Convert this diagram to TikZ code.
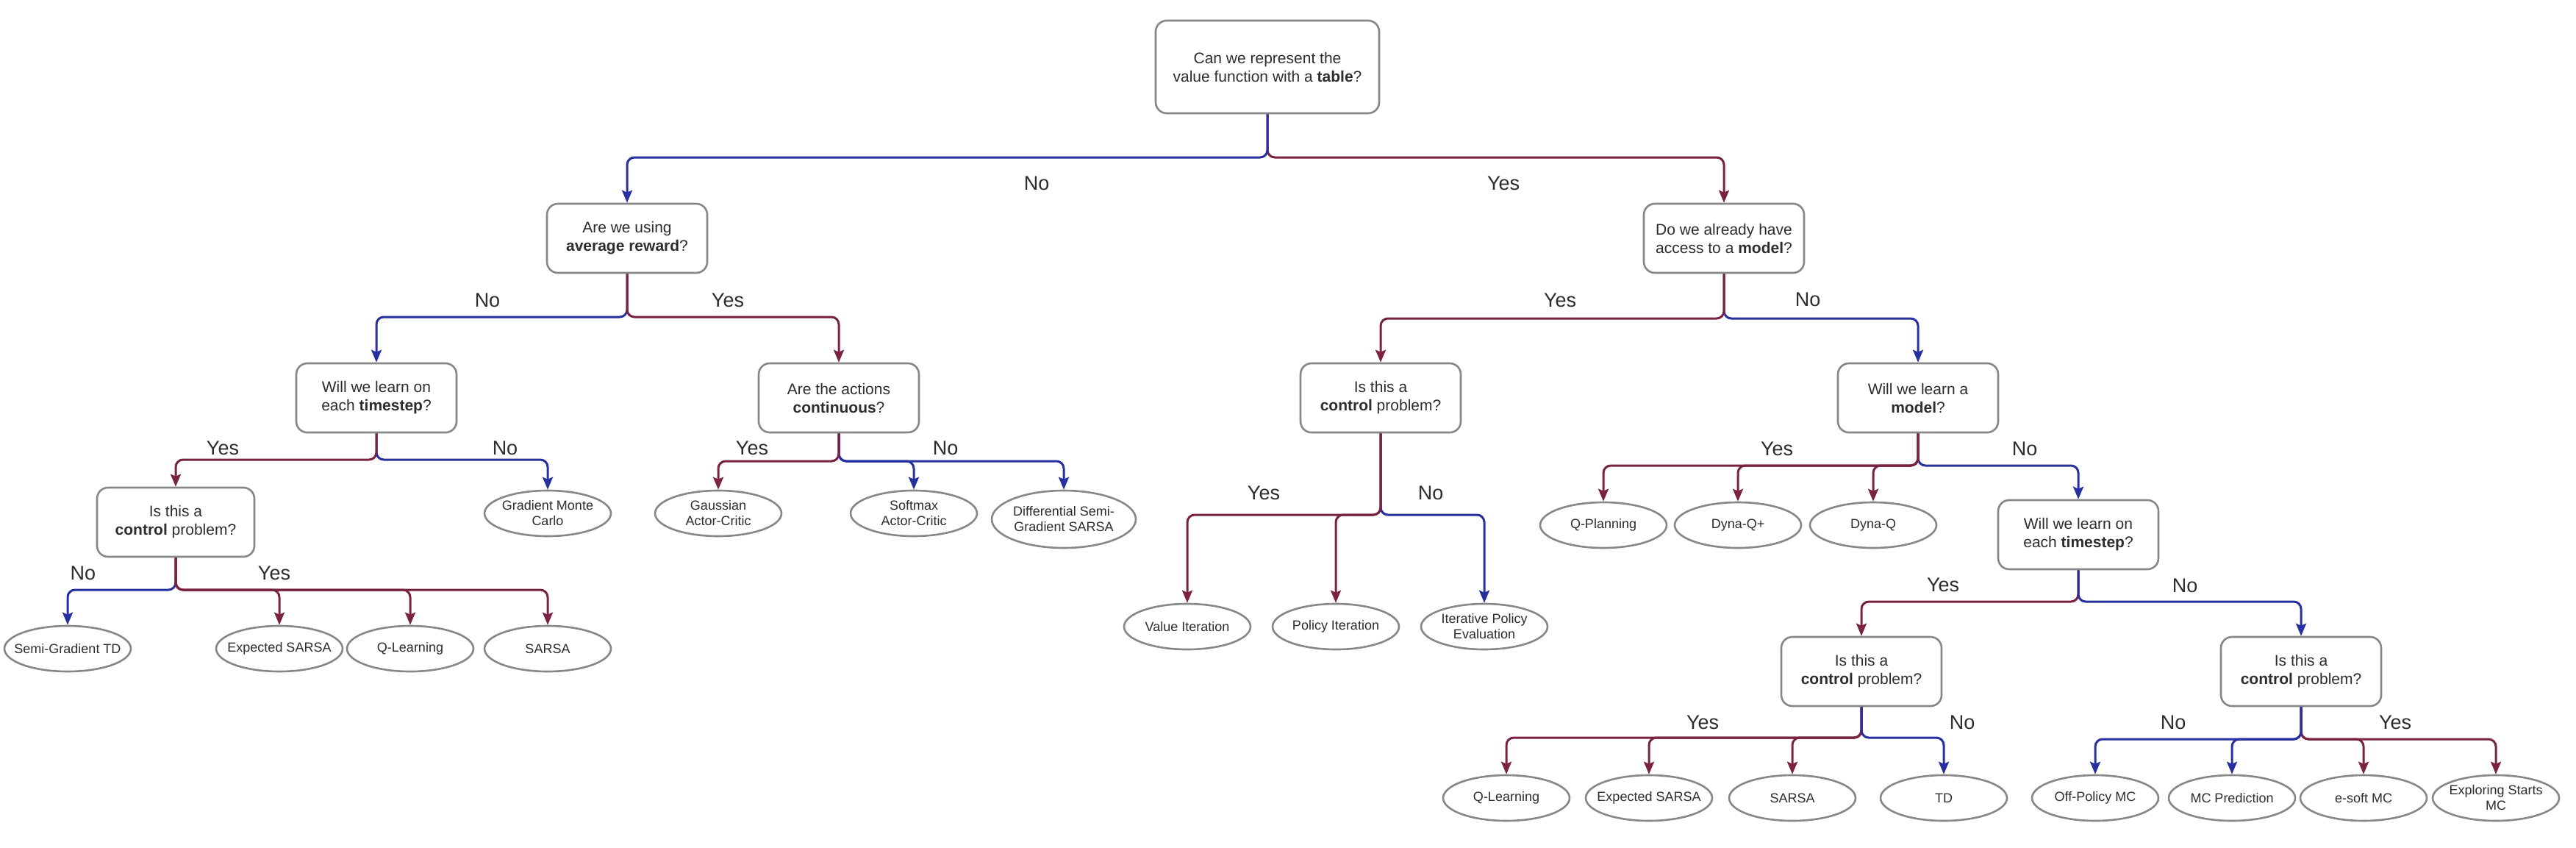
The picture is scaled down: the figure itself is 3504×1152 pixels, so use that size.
\documentclass[tikz,border=0pt]{standalone}
\usepackage{fontspec}
\setmainfont{Liberation Sans}
\usetikzlibrary{arrows.meta,shapes.geometric}
\definecolor{nocol}{RGB}{38,48,158}
\definecolor{yescol}{RGB}{122,34,66}
\definecolor{boxline}{RGB}{135,135,135}
\definecolor{txt}{RGB}{45,45,45}
\tikzset{
  qbox/.style={draw=boxline, line width=2.6pt, rounded corners=15pt, fill=white,
    minimum width=218pt, minimum height=94pt, align=center, text=txt,
    font=\fontsize{21}{25}\selectfont, inner sep=2pt},
  leaf/.style={draw=boxline, line width=2.6pt, ellipse, fill=white,
    minimum width=172pt, minimum height=62pt, align=center, text=txt,
    font=\fontsize{18}{21}\selectfont, inner xsep=-30pt, inner ysep=-4pt},
  edge/.style={line width=3pt, rounded corners=10pt},
  noedge/.style={edge, draw=nocol, -{Stealth[length=17pt,width=14pt,inset=3pt,fill=nocol]}},
  yesedge/.style={edge, draw=yescol, -{Stealth[length=17pt,width=14pt,inset=3pt,fill=yescol]}},
  lbl/.style={text=txt, font=\fontsize{27}{30}\selectfont, inner sep=0pt},
}
\begin{document}
\begin{tikzpicture}[x=1pt,y=-1pt]
\useasboundingbox (0,0) rectangle (3504,1152);
\fill[white] (0,0) rectangle (3504,1152);

% decision boxes
\node[qbox, minimum width=304pt, minimum height=126pt] (top) at (1724,91) {Can we represent the\\value function with a \textbf{table}?};
\node[qbox] (avg) at (853,324) {Are we using\\\textbf{average reward}?};
\node[qbox] (ts1) at (512,541) {Will we learn on\\each \textbf{timestep}?};
\node[qbox, minimum width=214pt] (ctl1) at (239,710) {Is this a\\\textbf{control} problem?};
\node[qbox] (cont) at (1141,541) {Are the actions\\\textbf{continuous}?};
\node[qbox] (model) at (2345,324) {Do we already have\\access to a \textbf{model}?};
\node[qbox] (ctl2) at (1878,541) {Is this a\\\textbf{control} problem?};
\node[qbox] (learn) at (2609,541) {Will we learn a\\\textbf{model}?};
\node[qbox] (ts2) at (2827,727) {Will we learn on\\each \textbf{timestep}?};
\node[qbox] (ctl3) at (2532,913) {Is this a\\\textbf{control} problem?};
\node[qbox] (ctl4) at (3130,913) {Is this a\\\textbf{control} problem?};

% leaves
\node[leaf] (gmc) at (745,698) {Gradient Monte\\Carlo};
\node[leaf] (semitd) at (92,882) {Semi-Gradient TD};
\node[leaf] (esarsa1) at (380,882) {Expected SARSA};
\node[leaf] (ql1) at (558,882) {Q-Learning};
\node[leaf] (sarsa1) at (745,882) {SARSA};
\node[leaf] (gauss) at (977,698) {Gaussian\\Actor-Critic};
\node[leaf] (softmax) at (1243,698) {Softmax\\Actor-Critic};
\node[leaf, minimum width=196pt, minimum height=78pt] (diff) at (1447,706) {Differential Semi-\\Gradient SARSA};
\node[leaf] (vi) at (1615,852) {Value Iteration};
\node[leaf] (pi) at (1817,852) {Policy Iteration};
\node[leaf] (ipe) at (2019,852) {Iterative Policy\\Evaluation};
\node[leaf] (qp) at (2181,714) {Q-Planning};
\node[leaf] (dynaqp) at (2364,714) {Dyna-Q+};
\node[leaf] (dynaq) at (2548,714) {Dyna-Q};
\node[leaf] (ql2) at (2049,1085) {Q-Learning};
\node[leaf] (es2) at (2243,1085) {Expected SARSA};
\node[leaf] (sarsa2) at (2438,1085) {SARSA};
\node[leaf] (td) at (2644,1085) {TD};
\node[leaf] (offmc) at (2850,1085) {Off-Policy MC};
\node[leaf] (mcpred) at (3036,1085) {MC Prediction};
\node[leaf] (esoft) at (3215,1085) {e-soft MC};
\node[leaf] (exmc) at (3395,1085) {Exploring Starts\\MC};

% split points
\coordinate (topS) at (1724,214);
\coordinate (avgS) at (853,431);
\coordinate (ts1S) at (512,625);
\coordinate (ctl1S) at (239,802);
\coordinate (contS) at (1141,627);
\coordinate (modelS) at (2345,433);
\coordinate (ctl2S) at (1878,700);
\coordinate (learnS) at (2609,633);
\coordinate (ts2S) at (2827,818);
\coordinate (ctl3S) at (2532,1003);
\coordinate (ctl4S) at (3130,1005);

% connectors
\draw[yesedge] (top.south) -- (topS) -| (model.north);
\draw[noedge] (top.south) -- (topS) -| (avg.north);

\draw[noedge] (avg.south) -- (avgS) -| (ts1.north);
\draw[yesedge] (avg.south) -- (avgS) -| (cont.north);

\draw[noedge] (ts1.south) -- (ts1S) -| (gmc.north);
\draw[yesedge] (ts1.south) -- (ts1S) -| (ctl1.north);

\draw[noedge] (ctl1.south) -- (ctl1S) -| (semitd.north);
\draw[yesedge] (ctl1.south) -- (ctl1S) -| (sarsa1.north);
\draw[yesedge] (ctl1.south) -- (ctl1S) -| (ql1.north);
\draw[yesedge] (ctl1.south) -- (ctl1S) -| (esarsa1.north);

\draw[noedge] (cont.south) -- (contS) -| (diff.north);
\draw[noedge] (cont.south) -- (contS) -| (softmax.north);
\draw[yesedge] (cont.south) -- (contS) -| (gauss.north);

\draw[noedge] (model.south) -- (modelS) -| (learn.north);
\draw[yesedge] (model.south) -- (modelS) -| (ctl2.north);

\draw[noedge] (ctl2.south) -- (ctl2S) -| (ipe.north);
\draw[yesedge] (ctl2.south) -- (ctl2S) -| (vi.north);
\draw[yesedge] (ctl2.south) -- (ctl2S) -| (pi.north);

\draw[noedge] (learn.south) -- (learnS) -| (ts2.north);
\draw[yesedge] (learn.south) -- (learnS) -| (qp.north);
\draw[yesedge] (learn.south) -- (learnS) -| (dynaqp.north);
\draw[yesedge] (learn.south) -- (learnS) -| (dynaq.north);

\draw[yesedge] (ts2.south) -- (ts2S) -| (ctl3.north);
\draw[noedge] (ts2.south) -- (ts2S) -| (ctl4.north);

\draw[yesedge] (ctl3.south) -- (ctl3S) -| (ql2.north);
\draw[yesedge] (ctl3.south) -- (ctl3S) -| (es2.north);
\draw[yesedge] (ctl3.south) -- (ctl3S) -| (sarsa2.north);
\draw[noedge] (ctl3.south) -- (ctl3S) -| (td.north);

\draw[yesedge] (ctl4.south) -- (ctl4S) -| (exmc.north);
\draw[yesedge] (ctl4.south) -- (ctl4S) -| (esoft.north);
\draw[noedge] (ctl4.south) -- (ctl4S) -| (offmc.north);
\draw[noedge] (ctl4.south) -- (ctl4S) -| (mcpred.north);

% labels
\node[lbl] (l1) at (1410,249) {No};
\node[lbl] (l2) at (2045,249) {Yes};
\node[lbl] (l3) at (663,408) {No};
\node[lbl] (l4) at (990,408) {Yes};
\node[lbl] (l5) at (303,609) {Yes};
\node[lbl] (l6) at (687,609) {No};
\node[lbl] (l7) at (113,779) {No};
\node[lbl] (l8) at (373,779) {Yes};
\node[lbl] (l9) at (1023,609) {Yes};
\node[lbl] (l10) at (1286,609) {No};
\node[lbl] (l11) at (2122,408) {Yes};
\node[lbl] (l12) at (2459,407) {No};
\node[lbl] (l13) at (1719,670) {Yes};
\node[lbl] (l14) at (1946,670) {No};
\node[lbl] (l15) at (2417,610) {Yes};
\node[lbl] (l16) at (2754,610) {No};
\node[lbl] (l17) at (2643,795) {Yes};
\node[lbl] (l18) at (2972,796) {No};
\node[lbl] (l19) at (2316,982) {Yes};
\node[lbl] (l20) at (2669,982) {No};
\node[lbl] (l21) at (2956,982) {No};
\node[lbl] (l22) at (3258,982) {Yes};
\end{tikzpicture}
\end{document}
